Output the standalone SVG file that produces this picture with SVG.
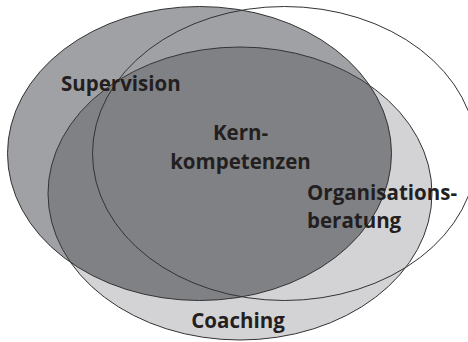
<svg xmlns="http://www.w3.org/2000/svg" width="468" height="342" viewBox="0 0 468 342">
  <style>
    .outline { fill: none; stroke: #333335; stroke-width: 1; }
    .lbl { font-family: "Open Sans", "Liberation Sans", sans-serif; font-weight: 700; font-size: 20.5px; fill: #231f20; }
  </style>
  <defs>
    <clipPath id="supClip">
      <ellipse cx="199.5" cy="153.5" rx="192" ry="147"/>
    </clipPath>
  </defs>
  <rect width="468" height="342" fill="#ffffff"/>
  <g id="supervision">
    <ellipse cx="199.5" cy="153.5" rx="192" ry="147" fill="#a0a1a4"/>
  </g>
  <g id="coaching">
    <ellipse cx="240" cy="193.5" rx="192" ry="146.5" fill="#d3d3d5"/>
    <ellipse cx="240" cy="193.5" rx="192" ry="146.5" fill="#808185" clip-path="url(#supClip)"/>
  </g>
  <g id="organisationsberatung">
    <ellipse cx="284.5" cy="153.5" rx="192" ry="147" class="outline"/>
  </g>
  <g id="outlines">
    <ellipse cx="199.5" cy="153.5" rx="192" ry="147" class="outline"/>
    <ellipse cx="240" cy="193.5" rx="192" ry="146.5" class="outline"/>
  </g>
  <g id="labels">
    <text class="lbl" x="61" y="91">Supervision</text>
    <text class="lbl" x="240.5" y="139.5" text-anchor="middle">Kern-</text>
    <text class="lbl" x="240.5" y="168.5" text-anchor="middle">kompetenzen</text>
    <text class="lbl" x="307" y="200">Organisations-</text>
    <text class="lbl" x="307" y="228">beratung</text>
    <text class="lbl" x="238" y="328" text-anchor="middle">Coaching</text>
  </g>
</svg>
